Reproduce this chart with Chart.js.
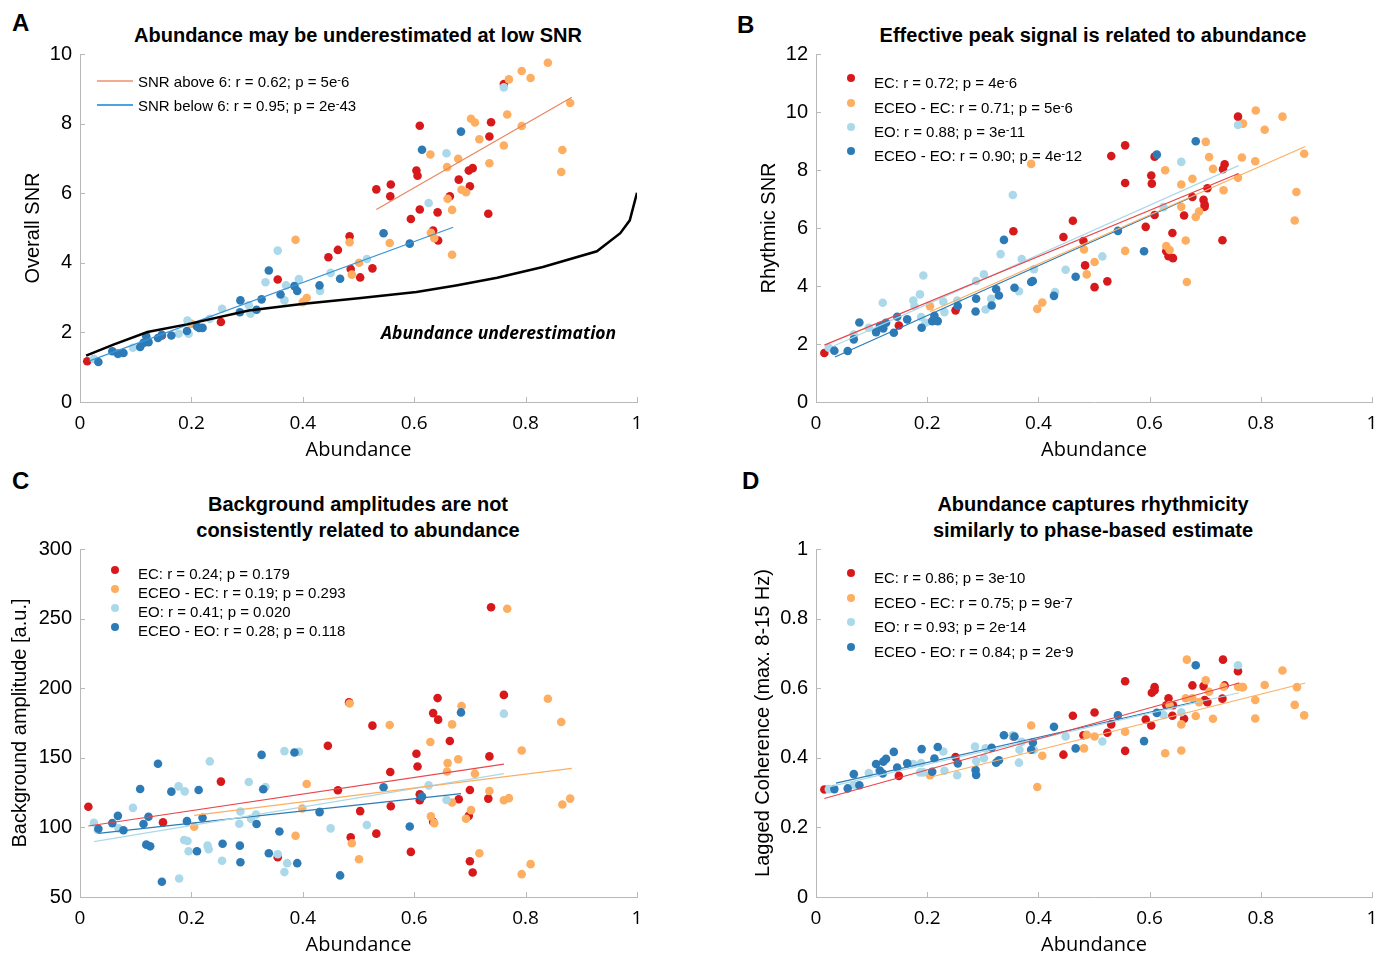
<!DOCTYPE html>
<html>
<head>
<meta charset="utf-8">
<script src="https://cdn.jsdelivr.net/npm/chart.js@4.4.1/dist/chart.umd.min.js"></script>
<style>
  html, body { margin: 0; padding: 0; background: #fff; }
  body { width: 1390px; height: 956px; position: relative; overflow: hidden; font-family: "Liberation Sans", Arial, sans-serif; color: #000; }
  canvas { position: absolute; }
  .letter { position: absolute; font-weight: bold; font-size: 24px; line-height: 1; }
  .title { position: absolute; width: 600px; text-align: center; font-weight: bold; font-size: 20px; line-height: 26px; }
  .leg { position: absolute; font-size: 15px; line-height: 1; white-space: nowrap; }
  .dot { position: absolute; width: 8px; height: 8px; border-radius: 50%; }
  .ln { position: absolute; width: 36px; height: 1.5px; }
  sup { font-size: 0.75em; vertical-align: 0.4em; line-height: 0; }
  .note { position: absolute; font-family: "Open Sans", sans-serif; font-weight: bold; font-style: italic; font-size: 17.5px; white-space: nowrap; }
</style>
</head>
<body>
<div class="letter" style="left:12px;top:11px">A</div>
<div class="letter" style="left:737px;top:13px">B</div>
<div class="letter" style="left:12px;top:469px">C</div>
<div class="letter" style="left:742px;top:469px">D</div>

<div class="title" style="left:58px;top:22px">Abundance may be underestimated at low SNR</div>
<div class="title" style="left:793px;top:22px">Effective peak signal is related to abundance</div>
<div class="title" style="left:58px;top:491px">Background amplitudes are not<br>consistently related to abundance</div>
<div class="title" style="left:793px;top:491px">Abundance captures rhythmicity<br>similarly to phase-based estimate</div>

<canvas id="chartA" width="660" height="428" style="left:0;top:34px"></canvas>
<canvas id="chartB" width="654" height="428" style="left:736px;top:34px"></canvas>
<canvas id="chartC" width="660" height="428" style="left:0;top:529px"></canvas>
<canvas id="chartD" width="654" height="428" style="left:736px;top:529px"></canvas>

<div class="note" style="left:381px;top:320px">Abundance underestimation</div>

<!-- legend A -->
<div class="ln" style="left:97px;top:80px;background:#f2ab92"></div>
<div class="leg" style="left:138px;top:74px">SNR above 6: r = 0.62; p = 5e<sup>-</sup>6</div>
<div class="ln" style="left:97px;top:104px;background:#4da2e0"></div>
<div class="leg" style="left:138px;top:98px">SNR below 6: r = 0.95; p = 2e<sup>-</sup>43</div>

<!-- legend B -->
<div class="dot" style="left:847px;top:74px;background:#d7191c"></div>
<div class="leg" style="left:874px;top:75px">EC: r = 0.72; p = 4e<sup>-</sup>6</div>
<div class="dot" style="left:847px;top:99px;background:#fdae61"></div>
<div class="leg" style="left:874px;top:100px">ECEO - EC: r = 0.71; p = 5e<sup>-</sup>6</div>
<div class="dot" style="left:847px;top:123px;background:#abd9e9"></div>
<div class="leg" style="left:874px;top:124px">EO: r = 0.88; p = 3e<sup>-</sup>11</div>
<div class="dot" style="left:847px;top:147px;background:#2c7bb6"></div>
<div class="leg" style="left:874px;top:148px">ECEO - EO: r = 0.90; p = 4e<sup>-</sup>12</div>

<!-- legend C -->
<div class="dot" style="left:111px;top:566px;background:#d7191c"></div>
<div class="leg" style="left:138px;top:566px">EC: r = 0.24; p = 0.179</div>
<div class="dot" style="left:111px;top:585px;background:#fdae61"></div>
<div class="leg" style="left:138px;top:585px">ECEO - EC: r = 0.19; p = 0.293</div>
<div class="dot" style="left:111px;top:604px;background:#abd9e9"></div>
<div class="leg" style="left:138px;top:604px">EO: r = 0.41; p = 0.020</div>
<div class="dot" style="left:111px;top:623px;background:#2c7bb6"></div>
<div class="leg" style="left:138px;top:623px">ECEO - EO: r = 0.28; p = 0.118</div>

<!-- legend D -->
<div class="dot" style="left:847px;top:569px;background:#d7191c"></div>
<div class="leg" style="left:874px;top:570px">EC: r = 0.86; p = 3e<sup>-</sup>10</div>
<div class="dot" style="left:847px;top:594px;background:#fdae61"></div>
<div class="leg" style="left:874px;top:595px">ECEO - EC: r = 0.75; p = 9e<sup>-</sup>7</div>
<div class="dot" style="left:847px;top:618px;background:#abd9e9"></div>
<div class="leg" style="left:874px;top:619px">EO: r = 0.93; p = 2e<sup>-</sup>14</div>
<div class="dot" style="left:847px;top:643px;background:#2c7bb6"></div>
<div class="leg" style="left:874px;top:644px">ECEO - EO: r = 0.84; p = 2e<sup>-</sup>9</div>

<script>
// colours for the four groups
const RED = '#d7191c', ORANGE = '#fdae61', LIGHT = '#abd9e9', BLUE = '#2c7bb6';
const AXIS = '#b8b8b8';

// ---- Panel A: Overall SNR vs abundance ----
const aEcX = [0.013,0.147,0.253,0.355,0.446,0.463,0.484,0.486,0.503,0.525,0.532,0.558,0.557,0.594,0.604,0.606,0.610,0.610,0.634,0.642,0.643,0.664,0.680,0.698,0.700,0.705,0.733,0.735,0.738,0.761];
const aEcY = [1.17,1.91,2.30,3.52,4.16,4.37,4.76,3.82,3.58,3.84,6.11,6.25,5.91,5.26,6.65,6.50,7.94,5.53,4.93,5.45,4.64,5.91,6.39,6.65,6.20,6.72,5.41,7.63,8.04,9.14];
const aEceoEcX = [0.200,0.387,0.400,0.407,0.484,0.488,0.501,0.556,0.629,0.630,0.636,0.659,0.660,0.668,0.668,0.679,0.685,0.693,0.702,0.709,0.717,0.735,0.761,0.767,0.770,0.793,0.793,0.809,0.840,0.864,0.866,0.880];
const aEceoEcY = [2.25,4.66,2.87,2.99,4.59,3.66,4.00,4.57,7.11,4.86,4.71,6.75,5.84,5.52,4.23,6.99,6.10,6.03,8.14,8.03,7.55,6.86,7.37,8.26,9.27,9.51,7.93,9.31,9.75,6.61,7.24,8.59];
const aEoX = [0.025,0.069,0.095,0.177,0.193,0.195,0.233,0.255,0.303,0.306,0.333,0.355,0.367,0.370,0.393,0.431,0.450,0.515,0.626,0.658,0.761];
const aEoY = [1.24,1.37,1.56,1.96,2.34,1.96,2.39,2.68,2.78,2.54,3.44,4.35,2.92,3.35,3.53,3.19,3.71,4.11,5.72,7.15,9.04];
const aEceoEoX = [0.033,0.058,0.068,0.078,0.108,0.114,0.119,0.123,0.140,0.147,0.164,0.192,0.210,0.214,0.220,0.287,0.288,0.317,0.326,0.339,0.360,0.385,0.390,0.430,0.467,0.545,0.592,0.614,0.684];
const aEceoEoY = [1.15,1.46,1.39,1.41,1.58,1.70,1.89,1.72,1.84,1.93,1.91,2.04,2.17,2.13,2.13,2.58,2.92,2.65,2.95,3.78,3.09,3.33,3.19,3.35,3.54,4.85,4.55,7.25,7.77];
const aFitAboveX = [0.532, 0.883], aFitAboveY = [5.53, 8.76];
const aFitBelowX = [0.017, 0.670], aFitBelowY = [1.18, 5.02];
const aLimitX = [0.011,0.06,0.121,0.192,0.303,0.402,0.50,0.604,0.675,0.749,0.831,0.928,0.970,0.987,1.0];
const aLimitY = [1.33,1.65,2.01,2.23,2.63,2.82,2.98,3.16,3.35,3.57,3.88,4.33,4.85,5.22,6.01];

// ---- Panel B: Rhythmic SNR vs abundance ----
const bEcX = [0.015,0.149,0.251,0.355,0.445,0.462,0.481,0.484,0.501,0.524,0.531,0.556,0.556,0.593,0.603,0.604,0.609,0.609,0.630,0.634,0.642,0.641,0.662,0.677,0.697,0.699,0.699,0.704,0.731,0.732,0.735,0.759];
const bEcY = [1.69,2.64,3.16,5.89,5.69,6.25,5.55,4.71,3.96,4.16,8.48,8.85,7.55,6.04,7.81,7.53,8.46,6.45,5.20,5.03,4.96,5.83,6.43,7.07,6.97,6.81,6.73,7.37,5.58,8.03,8.20,9.84];
const bEceoEcX = [0.205,0.387,0.398,0.407,0.482,0.487,0.501,0.556,0.628,0.630,0.636,0.657,0.657,0.665,0.667,0.677,0.683,0.689,0.701,0.707,0.714,0.733,0.759,0.766,0.768,0.790,0.791,0.807,0.839,0.864,0.861,0.878];
const bEceoEcY = [3.30,8.21,3.21,3.43,5.26,4.40,4.83,5.21,7.99,5.38,5.24,6.73,7.50,5.57,4.14,7.70,6.38,6.57,8.97,8.45,8.04,7.30,7.73,8.43,9.60,8.30,10.05,9.39,9.84,7.24,6.26,8.56];
const bEoX = [0.023,0.068,0.095,0.120,0.175,0.177,0.187,0.189,0.193,0.197,0.229,0.231,0.254,0.288,0.302,0.305,0.315,0.332,0.354,0.365,0.370,0.392,0.430,0.449,0.515,0.625,0.657,0.759];
const bEoY = [1.87,2.33,2.56,3.42,3.50,3.31,3.71,2.93,4.36,2.73,3.46,3.10,3.50,4.17,4.40,3.19,3.56,5.10,7.14,3.82,4.93,4.58,3.79,4.56,5.02,6.72,8.28,9.55];
const bEceoEoX = [0.033,0.057,0.068,0.078,0.108,0.115,0.121,0.126,0.140,0.146,0.164,0.190,0.209,0.213,0.219,0.255,0.287,0.288,0.316,0.324,0.329,0.338,0.357,0.387,0.390,0.428,0.467,0.543,0.590,0.613,0.683];
const bEceoEoY = [1.77,1.76,2.16,2.74,2.41,2.62,2.54,2.73,2.39,2.94,2.85,2.56,2.79,2.97,2.79,3.31,3.12,3.56,3.33,3.89,3.67,5.59,3.94,4.14,4.17,3.66,4.32,5.90,5.20,8.53,8.99];
const bFitEcX = [0.015, 0.760], bFitEcY = [1.96, 7.88];
const bFitEceoEcX = [0.205, 0.880], bFitEceoEcY = [3.11, 8.81];
const bFitEoX = [0.032, 0.760], bFitEoY = [1.93, 8.15];
const bFitEceoEoX = [0.034, 0.683], bFitEceoEoY = [1.55, 7.13];

// ---- Panel C: background amplitude vs abundance ----
const cEcX = [0.015,0.149,0.253,0.355,0.445,0.463,0.483,0.486,0.503,0.525,0.532,0.557,0.558,0.594,0.604,0.606,0.610,0.610,0.634,0.634,0.642,0.643,0.664,0.680,0.698,0.700,0.705,0.700,0.733,0.735,0.738,0.761];
const cEcY = [114.8,103.6,132.9,78.6,158.6,126.7,189.8,92.9,111.7,173.1,95.5,139.8,115.2,82.4,152.9,143.8,123.8,119.5,182.1,104.0,192.9,177.4,162.1,120.2,108.3,126.9,67.6,75.7,120.7,151.0,258.1,195.2];
const cEceoEcX = [0.205,0.387,0.407,0.399,0.484,0.488,0.501,0.556,0.629,0.630,0.636,0.659,0.660,0.668,0.668,0.679,0.685,0.693,0.702,0.709,0.717,0.735,0.761,0.767,0.770,0.793,0.793,0.809,0.840,0.864,0.866,0.880];
const cEceoEcY = [100.5,94.0,131.2,113.6,189.0,88.6,77.1,173.6,161.4,107.9,103.1,140.2,146.2,174.0,117.9,149.0,187.1,106.2,112.4,138.6,81.4,126.2,119.5,257.1,121.0,66.4,155.2,73.6,192.4,175.7,116.4,120.7];
const cEoX = [0.025,0.032,0.069,0.095,0.177,0.178,0.188,0.187,0.193,0.195,0.229,0.231,0.233,0.255,0.286,0.288,0.303,0.316,0.307,0.333,0.355,0.367,0.367,0.372,0.393,0.431,0.450,0.515,0.626,0.658,0.761];
const cEoY = [103.3,98.1,99.3,114.0,129.5,63.3,125.9,91.0,90.2,82.9,86.9,84.3,147.4,76.0,102.6,111.4,132.6,109.3,106.2,129.0,80.7,154.8,67.9,74.3,154.3,111.2,99.3,101.7,130.2,119.8,181.7];
const cEceoEoX = [0.033,0.058,0.068,0.078,0.108,0.114,0.119,0.123,0.126,0.140,0.147,0.164,0.192,0.210,0.213,0.220,0.256,0.287,0.288,0.317,0.326,0.329,0.339,0.358,0.385,0.390,0.430,0.467,0.545,0.592,0.614,0.684];
const cEceoEoY = [99.0,103.1,108.3,97.9,127.6,102.4,87.6,107.6,86.4,145.7,61.0,125.7,104.5,82.9,126.9,106.9,88.3,86.9,75.0,102.4,152.1,127.4,81.4,97.1,153.8,74.3,111.0,65.5,128.8,100.7,122.1,182.6];
const cFitEcX = [0.015, 0.761], cFitEcY = [101.0, 145.5];
const cFitEceoEcX = [0.205, 0.883], cFitEceoEcY = [108.6, 142.4];
const cFitEoX = [0.025, 0.761], cFitEoY = [89.8, 138.6];
const cFitEceoEoX = [0.033, 0.684], cFitEceoEoY = [95.7, 124.3];

// ---- Panel D: lagged coherence vs abundance ----
const dEcX = [0.015,0.149,0.251,0.355,0.445,0.462,0.481,0.501,0.524,0.531,0.556,0.556,0.593,0.603,0.604,0.609,0.609,0.630,0.634,0.642,0.641,0.662,0.677,0.697,0.699,0.704,0.731,0.732,0.735,0.759];
const dEcY = [0.309,0.348,0.402,0.461,0.409,0.521,0.465,0.530,0.472,0.496,0.620,0.420,0.510,0.493,0.587,0.603,0.594,0.551,0.571,0.551,0.521,0.512,0.608,0.606,0.566,0.560,0.570,0.682,0.608,0.649];
const dEceoEcX = [0.205,0.387,0.398,0.407,0.482,0.487,0.501,0.556,0.628,0.636,0.657,0.657,0.665,0.667,0.677,0.683,0.689,0.701,0.707,0.714,0.733,0.759,0.766,0.768,0.790,0.790,0.807,0.839,0.861,0.865,0.878];
const dEceoEcY = [0.350,0.493,0.316,0.406,0.427,0.466,0.461,0.475,0.413,0.551,0.496,0.421,0.571,0.682,0.571,0.520,0.560,0.623,0.590,0.512,0.604,0.604,0.603,0.603,0.566,0.513,0.609,0.651,0.552,0.603,0.522];
const dEoX = [0.023,0.068,0.095,0.114,0.175,0.187,0.189,0.193,0.229,0.231,0.254,0.286,0.288,0.302,0.305,0.354,0.365,0.366,0.370,0.392,0.449,0.515,0.625,0.657,0.759];
const dEoY = [0.310,0.322,0.356,0.364,0.382,0.358,0.385,0.358,0.418,0.363,0.350,0.432,0.391,0.399,0.427,0.465,0.386,0.423,0.446,0.423,0.461,0.447,0.523,0.531,0.666];
const dEceoEoX = [0.033,0.057,0.068,0.078,0.108,0.115,0.120,0.121,0.126,0.140,0.146,0.164,0.190,0.209,0.213,0.219,0.255,0.287,0.288,0.316,0.324,0.329,0.338,0.357,0.387,0.390,0.428,0.467,0.543,0.590,0.613,0.683];
const dEceoEoY = [0.310,0.312,0.353,0.321,0.382,0.363,0.355,0.389,0.397,0.417,0.372,0.384,0.425,0.360,0.398,0.431,0.384,0.365,0.351,0.429,0.386,0.393,0.465,0.461,0.423,0.444,0.489,0.427,0.522,0.448,0.529,0.666];
const dFitEcX = [0.015, 0.761], dFitEcY = [0.283, 0.615];
const dFitEceoEcX = [0.205, 0.880], dFitEceoEcY = [0.344, 0.615];
const dFitEoX = [0.025, 0.761], dFitEoY = [0.317, 0.587];
const dFitEceoEoX = [0.036, 0.683], dFitEceoEoY = [0.327, 0.561];

const xTicks = [0, 0.2, 0.4, 0.6, 0.8, 1];

function pts(xs, ys) {
  return xs.map((x, i) => ({ x: x, y: ys[i] }));
}
function dots(xs, ys, color, order) {
  return { data: pts(xs, ys), backgroundColor: color, borderWidth: 0,
           pointRadius: 4.3, pointHoverRadius: 4.3, order: order };
}
function fit(xs, ys, color, width) {
  return { data: pts(xs, ys), showLine: true, borderColor: color, borderWidth: width || 1.2,
           pointRadius: 0, fill: false, tension: 0, order: 0 };
}

// MATLAB style ticks pointing into the plot
const inwardTicks = {
  id: 'inwardTicks',
  afterDraw(chart) {
    const { ctx, chartArea: a, scales } = chart;
    ctx.save();
    ctx.strokeStyle = AXIS;
    ctx.lineWidth = 1;
    scales.x.ticks.forEach(t => {
      const px = Math.round(scales.x.getPixelForValue(t.value)) + 0.5;
      ctx.beginPath(); ctx.moveTo(px, a.bottom); ctx.lineTo(px, a.bottom - 5); ctx.stroke();
    });
    scales.y.ticks.forEach(t => {
      const py = Math.round(scales.y.getPixelForValue(t.value)) + 0.5;
      ctx.beginPath(); ctx.moveTo(a.left, py); ctx.lineTo(a.left + 5, py); ctx.stroke();
    });
    ctx.restore();
  }
};

function makePanel(id, datasets, yMin, yMax, yStep, yTitle, yTitlePad, padRight) {
  return new Chart(document.getElementById(id), {
    type: 'scatter',
    data: { datasets: datasets },
    plugins: [inwardTicks],
    options: {
      responsive: false,
      animation: false,
      layout: { padding: { top: 7, right: padRight, left: 0, bottom: 0 } },
      plugins: { legend: { display: false }, tooltip: { enabled: false } },
      scales: {
        x: {
          type: 'linear', min: 0, max: 1,
          afterBuildTicks: s => { s.ticks = xTicks.map(v => ({ value: v })); },
          afterFit: s => { s.height = 60; },
          grid: { display: false, drawTicks: false },
          border: { display: true, color: AXIS, width: 1 },
          ticks: { color: '#000', padding: 10, font: { family: 'Open Sans', size: 19 },
                   callback: v => String(v) },
          title: { display: true, text: 'Abundance', color: '#000', padding: { top: 0, bottom: 0 },
                   font: { family: 'Open Sans', size: 20 } }
        },
        y: {
          type: 'linear', min: yMin, max: yMax,
          ticks: { stepSize: yStep, color: '#000', padding: 8, font: { family: 'Liberation Sans', size: 20 },
                   callback: v => String(Number(v.toFixed(2))) },
          afterFit: s => { s.width = 80; },
          grid: { display: false, drawTicks: false },
          border: { display: true, color: AXIS, width: 1 },
          title: { display: true, text: yTitle, color: '#000', padding: { top: yTitlePad, bottom: 0 },
                   font: { family: 'Liberation Sans', size: 20 } }
        }
      }
    }
  });
}

makePanel('chartA', [
  { data: pts(aLimitX, aLimitY), showLine: true, borderColor: '#000', borderWidth: 2.5,
    pointRadius: 0, fill: false, tension: 0, order: 0 },
  fit(aFitAboveX, aFitAboveY, '#e9855e', 1.2),
  fit(aFitBelowX, aFitBelowY, '#3b93d6', 1.2),
  dots(aEceoEoX, aEceoEoY, BLUE, 1),
  dots(aEoX, aEoY, LIGHT, 2),
  dots(aEceoEcX, aEceoEcY, ORANGE, 3),
  dots(aEcX, aEcY, RED, 4)
], 0, 10, 2, 'Overall SNR', 21, 23);

makePanel('chartB', [
  fit(bFitEcX, bFitEcY, '#e8474b'),
  fit(bFitEceoEcX, bFitEceoEcY, ORANGE),
  fit(bFitEoX, bFitEoY, LIGHT),
  fit(bFitEceoEoX, bFitEceoEoY, BLUE),
  dots(bEceoEoX, bEceoEoY, BLUE, 1),
  dots(bEoX, bEoY, LIGHT, 2),
  dots(bEceoEcX, bEceoEcY, ORANGE, 3),
  dots(bEcX, bEcY, RED, 4)
], 0, 12, 2, 'Rhythmic SNR', 21, 18);

makePanel('chartC', [
  fit(cFitEcX, cFitEcY, '#e8474b'),
  fit(cFitEceoEcX, cFitEceoEcY, ORANGE),
  fit(cFitEoX, cFitEoY, LIGHT),
  fit(cFitEceoEoX, cFitEceoEoY, BLUE),
  dots(cEceoEoX, cEceoEoY, BLUE, 1),
  dots(cEoX, cEoY, LIGHT, 2),
  dots(cEceoEcX, cEceoEcY, ORANGE, 3),
  dots(cEcX, cEcY, RED, 4)
], 50, 300, 50, 'Background amplitude [a.u.]', 8, 23);

makePanel('chartD', [
  fit(dFitEcX, dFitEcY, '#e8474b'),
  fit(dFitEceoEcX, dFitEceoEcY, ORANGE),
  fit(dFitEoX, dFitEoY, LIGHT),
  fit(dFitEceoEoX, dFitEceoEoY, BLUE),
  dots(dEceoEoX, dEceoEoY, BLUE, 1),
  dots(dEoX, dEoY, LIGHT, 2),
  dots(dEceoEcX, dEceoEcY, ORANGE, 3),
  dots(dEcX, dEcY, RED, 4)
], 0, 1, 0.2, 'Lagged Coherence (max. 8-15 Hz)', 15, 18);
</script>
</body>
</html>
